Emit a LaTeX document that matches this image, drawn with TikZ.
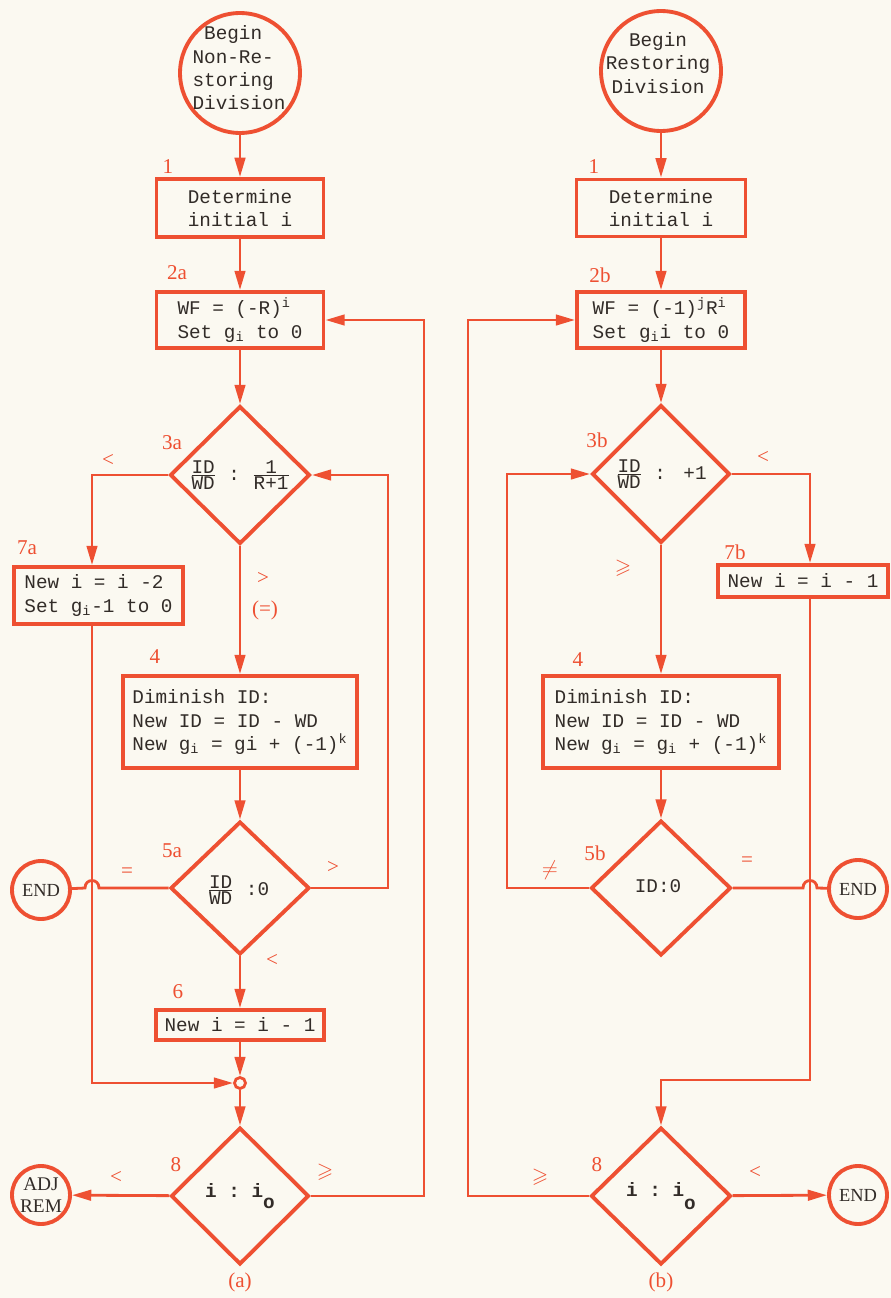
\documentclass[tikz,border=0pt]{standalone}
\usepackage{amssymb}
\usepackage{fontspec}
\setmainfont{Liberation Serif}
\setmonofont{Liberation Mono}
\usetikzlibrary{arrows.meta,shapes.geometric,calc}
\definecolor{ink}{RGB}{238,80,50}
\definecolor{txt}{RGB}{50,44,40}
\definecolor{paper}{RGB}{251,249,241}
\begin{document}
\begin{tikzpicture}[x=0.02cm,y=-0.02cm,
  conn/.style={draw=ink, line width=1.6pt},
  arr/.style={conn, -{Triangle[length=11pt,width=6pt]}},
  pbox/.style={draw=ink, line width=2.2pt, inner sep=2pt, text=txt,
    font=\ttfamily\fontsize{11}{13.3}\selectfont, align=center},
  dshape/.style={diamond, draw=ink, line width=2.2pt, inner sep=0pt},
  cshape/.style={circle, draw=ink, line width=2.2pt, inner sep=0pt},
  inside/.style={text=txt, font=\ttfamily\fontsize{11}{13.3}\selectfont, align=center, inner sep=0pt},
  boldin/.style={inside, font=\ttfamily\bfseries\fontsize{11}{13.3}\selectfont},
  numlab/.style={text=ink, font=\fontsize{12}{14}\selectfont, inner sep=0pt},
  endtxt/.style={text=txt, font=\fontsize{10.5}{11.5}\selectfont, align=center, inner sep=0pt}
]
\fill[paper] (0,0) rectangle (891,1298);
\useasboundingbox (0,0) rectangle (891,1298);

% ---------------- (a) ----------------
\node[cshape, minimum size=2.4cm] (sA) at (240,73) {};
\node[inside, align=left] (tsA) at (239,68) {\hspace*{0.6em}Begin\\Non-Re-\\storing\\Division};
\node[pbox, minimum width=3.34cm, minimum height=1.16cm] (b1a) at (240,208) {Determine\\initial i};
\node[pbox, minimum width=3.34cm, minimum height=1.12cm, align=left] (b2a) at (240,320)
  {WF = (-R)\textsuperscript{i}\\Set g\textsubscript{i} to 0};
\node[dshape, minimum width=2.8cm, minimum height=2.76cm] (d3a) at (240,475) {};
\node[inside] (t3a) at (240,475) {$\frac{\mbox{ID}}{\mbox{WD}}$ : $\frac{\mbox{1}}{\mbox{R+1}}$};
\node[pbox, minimum width=3.38cm, minimum height=1.14cm, align=left] (b7a) at (98.5,595.5)
  {New i = i -2\\Set g\textsubscript{i}-1 to 0};
\node[pbox, minimum width=4.68cm, minimum height=1.84cm, align=left] (b4a) at (240,722)
  {Diminish ID:\\New ID = ID - WD\\New g\textsubscript{i} = gi + (-1)\textsuperscript{k}};
\node[dshape, minimum width=2.78cm, minimum height=2.66cm] (d5a) at (240,888) {};
\node[inside] (t5a) at (238,890) {$\frac{\mbox{ID}}{\mbox{WD}}$ :0};
\node[cshape, minimum size=1.16cm] (eA) at (41,890) {};
\node[endtxt] (teA) at (41,890) {END};
\node[pbox, minimum width=3.36cm, minimum height=0.6cm] (b6a) at (240,1025) {New i = i - 1};
\node[cshape, line width=1.6pt, minimum size=0.22cm] (ja) at (240,1083) {};
\node[dshape, minimum width=2.76cm, minimum height=2.74cm] (d8a) at (240,1196) {};
\node[boldin] (t8a) at (240,1196) {i : i\raisebox{-1.1ex}{o}};
\node[cshape, minimum size=1.16cm] (adj) at (41,1195) {};
\node[endtxt, font=\fontsize{11}{12.5}\selectfont] (tadj) at (41,1195) {ADJ\\REM};

\coordinate (La) at (92,1083);
\coordinate (Ra) at (388,475);
\coordinate (Oa) at (424,320);

\draw[arr] (sA) -- (b1a);
\draw[arr] (b1a) -- (b2a);
\draw[arr] (b2a) -- (d3a);
\draw[arr] (d3a.west) -| (La |- b7a.north);
\draw[arr] (d3a) -- (b4a);
\draw[arr] (b4a) -- (d5a);
\draw[arr] (d5a) -- (b6a);
\draw[arr] (b6a) -- (ja);
\draw[arr] (ja) -- (d8a);
\draw[arr] (La |- b7a.south) -- (La) -- (ja);
\draw[arr] (d5a.east) -- (d5a.east -| Ra) |- (d3a.east);
\draw[arr] (d8a.east) -- (d8a.east -| Oa) |- (b2a.east);
\draw[conn] (d5a.west) -- ($(La |- d5a.west)+(7,0)$)
  .. controls ($(La |- d5a.west)+(7,-10)$) and ($(La |- d5a.west)+(-7,-10)$) ..
  ($(La |- d5a.west)+(-7,0)$) -- (eA);
\draw[arr] (d8a) -- (adj);

\node[numlab] (l1a) at (168,167) {1};
\node[numlab] (l2a) at (177,273) {2a};
\node[numlab] (l3a) at (172,443) {3a};
\node[numlab] (lta) at (108,460) {<};
\node[numlab] (l7a) at (27,548) {7a};
\node[numlab] (lgt3a) at (263,578) {>};
\node[numlab] (leq3a) at (265,610) {(=)};
\node[numlab] (l4a) at (155,657) {4};
\node[numlab] (l5a) at (172,851) {5a};
\node[numlab] (leq5a) at (127,873) {=};
\node[numlab] (lgt5a) at (333,867) {>};
\node[numlab] (llt5a) at (272,960) {<};
\node[numlab] (l6a) at (178,992) {6};
\node[numlab] (l8a) at (176,1165) {8};
\node[numlab] (llt8a) at (116,1177) {<};
\node[numlab] (lge8a) at (325,1172) {$\geqslant$};
\node[numlab] (capa) at (240,1282) {(a)};

% ---------------- (b) ----------------
\node[cshape, minimum size=2.4cm] (sB) at (661,71) {};
\node[inside] (tsB) at (658,63) {Begin\\Restoring\\Division};
\node[pbox, minimum width=3.38cm, minimum height=1.14cm] (b1b) at (661,208) {Determine\\initial i};
\node[pbox, minimum width=3.36cm, minimum height=1.12cm, align=left] (b2b) at (661,320)
  {WF = (-1)\textsuperscript{j}R\textsuperscript{i}\\Set g\textsubscript{i}i to 0};
\node[dshape, minimum width=2.76cm, minimum height=2.76cm] (d3b) at (661,474) {};
\node[inside] (t3b) at (661,474) {$\frac{\mbox{ID}}{\mbox{WD}}$\hspace{0.6em}:\hspace{0.9em}+1};
\node[pbox, minimum width=3.4cm, minimum height=0.64cm] (b7b) at (803,581) {New i = i - 1};
\node[pbox, minimum width=4.72cm, minimum height=1.84cm, align=left] (b4b) at (661,722)
  {Diminish ID:\\New ID = ID - WD\\New g\textsubscript{i} = g\textsubscript{i} + (-1)\textsuperscript{k}};
\node[dshape, minimum width=2.8cm, minimum height=2.7cm] (d5b) at (661,888) {};
\node[inside] (t5b) at (658,886) {ID:0};
\node[cshape, minimum size=1.16cm] (eB1) at (858,889) {};
\node[endtxt] (teB1) at (858,889) {END};
\node[dshape, minimum width=2.8cm, minimum height=2.74cm] (d8b) at (661,1196) {};
\node[boldin] (t8b) at (661,1196) {i : i\raisebox{-1.2ex}{o}};
\node[cshape, minimum size=1.16cm] (eB2) at (858,1195) {};
\node[endtxt] (teB2) at (858,1195) {END};

\coordinate (Rb) at (810,1080);
\coordinate (Mb) at (661,1080);
\coordinate (Lb) at (507,475);
\coordinate (Ob) at (468,320);

\draw[arr] (sB) -- (b1b);
\draw[arr] (b1b) -- (b2b);
\draw[arr] (b2b) -- (d3b);
\draw[arr] (d3b.east) -| (Rb |- b7b.north);
\draw[arr] (d3b) -- (b4b);
\draw[arr] (b4b) -- (d5b);
\draw[arr] (d5b.west) -- (d5b.west -| Lb) |- (d3b.west);
\draw[arr] (Rb |- b7b.south) -- (Rb) -- (Mb) -- (d8b);
\draw[arr] (d8b.west) -- (d8b.west -| Ob) |- (b2b.west);
\draw[conn] (d5b.east) -- ($(Rb |- d5b.east)+(-7,0)$)
  .. controls ($(Rb |- d5b.east)+(-7,-10)$) and ($(Rb |- d5b.east)+(7,-10)$) ..
  ($(Rb |- d5b.east)+(7,0)$) -- (eB1);
\draw[arr] (d8b) -- (eB2);

\node[numlab] (l1b) at (594,167) {1};
\node[numlab] (l2b) at (600,275) {2b};
\node[numlab] (l3b) at (597,440) {3b};
\node[numlab] (llt3b) at (763,457) {<};
\node[numlab] (l7b) at (735,552) {7b};
\node[numlab] (lge3b) at (623,568) {$\geqslant$};
\node[numlab] (l4b) at (578,660) {4};
\node[numlab] (l5b) at (595,853) {5b};
\node[numlab] (lne5b) at (550,870) {$\neq$};
\node[numlab] (leq5b) at (747,862) {=};
\node[numlab] (l8b) at (597,1165) {8};
\node[numlab] (lge8b) at (540,1177) {$\geqslant$};
\node[numlab] (llt8b) at (755,1172) {<};
\node[numlab] (capb) at (661,1282) {(b)};
\end{tikzpicture}
\end{document}
